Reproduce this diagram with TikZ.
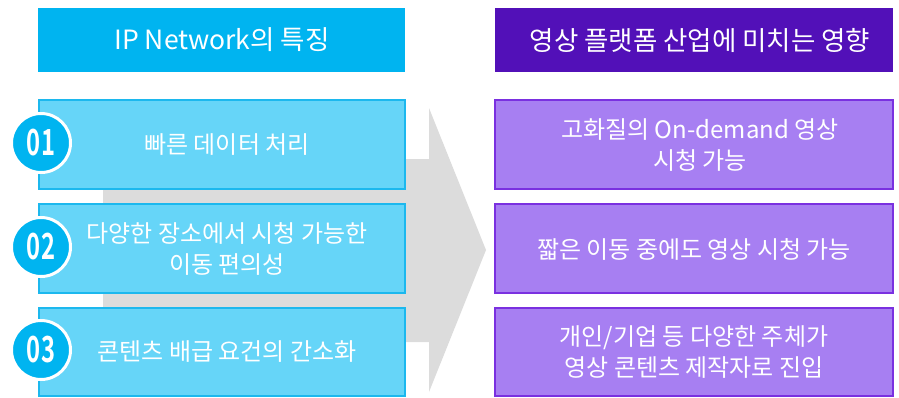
\documentclass[tikz,border=0pt]{standalone}
\usepackage{fontspec}
\setmainfont{Noto Sans CJK KR}
\newfontfamily\numfont{Noto Sans CJK KR Bold}
\definecolor{hdrL}{HTML}{00B4F0}
\definecolor{boxL}{HTML}{66D5F8}
\definecolor{bdrL}{HTML}{1CB8EE}
\definecolor{hdrR}{HTML}{5210B8}
\definecolor{boxR}{HTML}{A77FF2}
\definecolor{bdrR}{HTML}{7A30E0}
\definecolor{arrowgray}{HTML}{DCDCDC}
\begin{document}
\begin{tikzpicture}[x=1pt,y=-1pt,
  hdrtext/.style={text=white,font=\fontsize{26.5}{30}\selectfont},
  boxtext/.style={text=white,align=center,font=\fontsize{24}{31}\selectfont},
  lbox/.style={fill=boxL,draw=bdrL,line width=1.2pt},
  rbox/.style={fill=boxR,draw=bdrR,line width=1.2pt},
  numcirc/.style={circle,fill=hdrL,draw=white,line width=3pt,minimum size=59pt,inner sep=0pt,text=white}]
\useasboundingbox (0,0) rectangle (899,397);
% gray arrow
\fill[arrowgray] (103,159) -- (429,159) -- (429,108) -- (486,250) -- (429,392) -- (429,342) -- (103,342) -- cycle;
% headers
\fill[hdrL] (38,8) rectangle (405,72);
\node[hdrtext] (hl) at (222,40) {IP Network의 특징};
\fill[hdrR] (495,8) rectangle (893,72);
\node[hdrtext] (hr) at (700,40) {영상 플랫폼 산업에 미치는 영향};
% left boxes
\draw[lbox] (39,100) rectangle (405,189);
\draw[lbox] (39,204) rectangle (405,293);
\draw[lbox] (39,308) rectangle (405,396);
\node[boxtext] (l1) at (227,145) {빠른 데이터 처리};
\node[boxtext] (l2) at (227,249) {다양한 장소에서 시청 가능한\\이동 편의성};
\node[boxtext] (l3) at (227,352) {콘텐츠 배급 요건의 간소화};
% right boxes
\draw[rbox] (495,100) rectangle (893,189);
\draw[rbox] (495,204) rectangle (893,293);
\draw[rbox] (495,308) rectangle (893,396);
\node[boxtext] (r1) at (700,145) {고화질의 On-demand 영상\\시청 가능};
\node[boxtext] (r2) at (694,249) {짧은 이동 중에도 영상 시청 가능};
\node[boxtext] (r3) at (694,352) {개인/기업 등 다양한 주체가\\영상 콘텐츠 제작자로 진입};
% number circles
\node[numcirc] (n1) at (41,143) {\scalebox{0.66}[1]{\numfont\fontsize{36}{36}\selectfont 01}};
\node[numcirc] (n2) at (41,247) {\scalebox{0.66}[1]{\numfont\fontsize{36}{36}\selectfont 02}};
\node[numcirc] (n3) at (41,350) {\scalebox{0.66}[1]{\numfont\fontsize{36}{36}\selectfont 03}};
\end{tikzpicture}
\end{document}
